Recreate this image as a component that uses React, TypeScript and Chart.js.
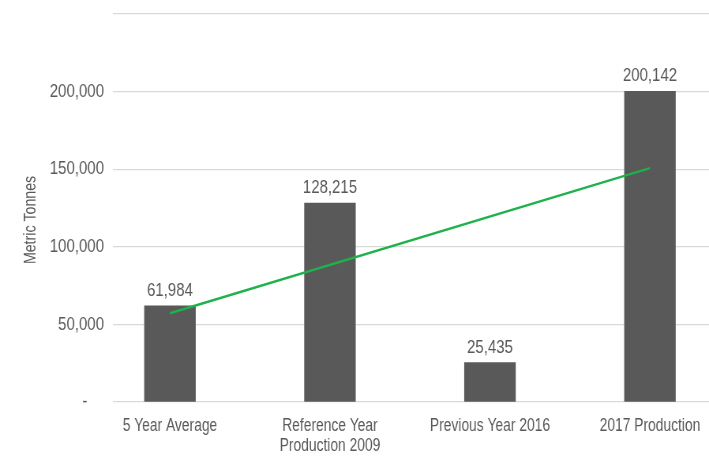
import React, { useEffect, useRef } from "react";
import { Chart, registerables } from "chart.js";

Chart.register(...registerables);

const categories: (string | string[])[] = [
  "5 Year Average",
  ["Reference Year", "Production 2009"],
  "Previous Year 2016",
  "2017 Production",
];
const production = [61984, 128215, 25435, 200142];
// trend line (start and end points)
const trendIndex = [0, 3];
const trendValues = [57200, 150700];
const yTicks = [0, 50000, 100000, 150000, 200000, 250000];
const yTitle = "Metric Tonnes";

const FONT = "'Liberation Sans', Arial, sans-serif";
const TEXT = "#595959";

// the canvas is drawn wider and squeezed to the window width, which gives
// the narrow (Arial Narrow-like) look of the original text
const OUT_W = 709;
const OUT_H = 459;
const CANVAS_W = 898;
const K = OUT_W / CANVAS_W;

export default function App() {
  const ref = useRef<HTMLCanvasElement | null>(null);
  useEffect(() => {
    const canvas = ref.current!;
    const labelPlugin = {
      id: "barLabels",
      afterDatasetsDraw(chart: any) {
        const meta = chart.getDatasetMeta(1);
        const ctx = chart.ctx;
        ctx.save();
        ctx.font = `19px ${FONT}`;
        ctx.fillStyle = TEXT;
        ctx.textAlign = "center";
        ctx.textBaseline = "alphabetic";
        meta.data.forEach((el: any, i: number) => {
          ctx.fillText(production[i].toLocaleString("en-US"), el.x, el.y - 10);
        });
        ctx.restore();
      },
    };
    const titlePlugin = {
      id: "yTitle",
      afterDraw(chart: any) {
        const ctx = chart.ctx;
        const area = chart.chartArea;
        ctx.save();
        ctx.translate(31 / K, (area.top + area.bottom) / 2 + 12);
        ctx.rotate(-Math.PI / 2);
        ctx.scale(0.81, 1 / K);
        ctx.font = `17.5px ${FONT}`;
        ctx.fillStyle = TEXT;
        ctx.textAlign = "center";
        ctx.textBaseline = "middle";
        ctx.fillText(yTitle, 0, 0);
        ctx.restore();
      },
    };
    const chart = new Chart(canvas, {
      type: "bar",
      data: {
        datasets: [
          {
            type: "line",
            data: trendIndex.map((x, i) => ({ x, y: trendValues[i] })),
            borderColor: "#1fb14c",
            borderWidth: 2.5,
            pointRadius: 0,
            fill: false,
            order: 0,
          } as any,
          {
            type: "bar",
            data: production.map((y, i) => ({ x: i, y })),
            backgroundColor: "#595959",
            barThickness: 51 / K,
            order: 1,
          },
        ],
      },
      options: {
        responsive: false,
        animation: false,
        layout: { padding: { top: 14, left: 0, right: 0, bottom: 0 } },
        plugins: {
          legend: { display: false },
          tooltip: { enabled: false },
        },
        scales: {
          x: {
            type: "linear",
            offset: false,
            min: -0.356,
            max: 3.369,
            grid: { display: false, drawTicks: false },
            border: { display: false },
            afterBuildTicks: (scale: any) => {
              scale.ticks = categories.map((_, i) => ({ value: i }));
            },
            afterFit: (scale: any) => {
              scale.height = 57;
              scale.paddingLeft = 0;
              scale.paddingRight = 0;
            },
            ticks: {
              autoSkip: false,
              maxRotation: 0,
              minRotation: 0,
              padding: 14,
              color: TEXT,
              font: { family: FONT, size: 17.5, lineHeight: 1.15 },
              callback: (v: any) => categories[v as number] as any,
            },
          },
          y: {
            min: 0,
            max: 250000,
            afterBuildTicks: (scale: any) => {
              scale.ticks = yTicks.map((v) => ({ value: v }));
            },
            afterFit: (scale: any) => {
              scale.width = 113 / K;
              scale.paddingTop = 0;
              scale.paddingBottom = 0;
            },
            grid: { color: "#d9d9d9", lineWidth: 1.3, drawTicks: false },
            border: { display: false },
            ticks: {
              padding: 9 / K,
              color: TEXT,
              font: { family: FONT, size: 19 },
              callback: (v: any) =>
                v === 0 ? "-    " : v === 250000 ? "" : Number(v).toLocaleString("en-US"),
            },
          },
        },
      },
      plugins: [labelPlugin, titlePlugin],
    });
    return () => chart.destroy();
  }, []);
  return (
    <div
      style={{
        position: "absolute",
        left: 0,
        top: 0,
        width: OUT_W,
        height: OUT_H,
        overflow: "hidden",
        background: "#fff",
      }}
    >
      <canvas
        ref={ref}
        width={CANVAS_W}
        height={OUT_H}
        style={{ display: "block", width: OUT_W + "px", height: OUT_H + "px" }}
      />
    </div>
  );
}
